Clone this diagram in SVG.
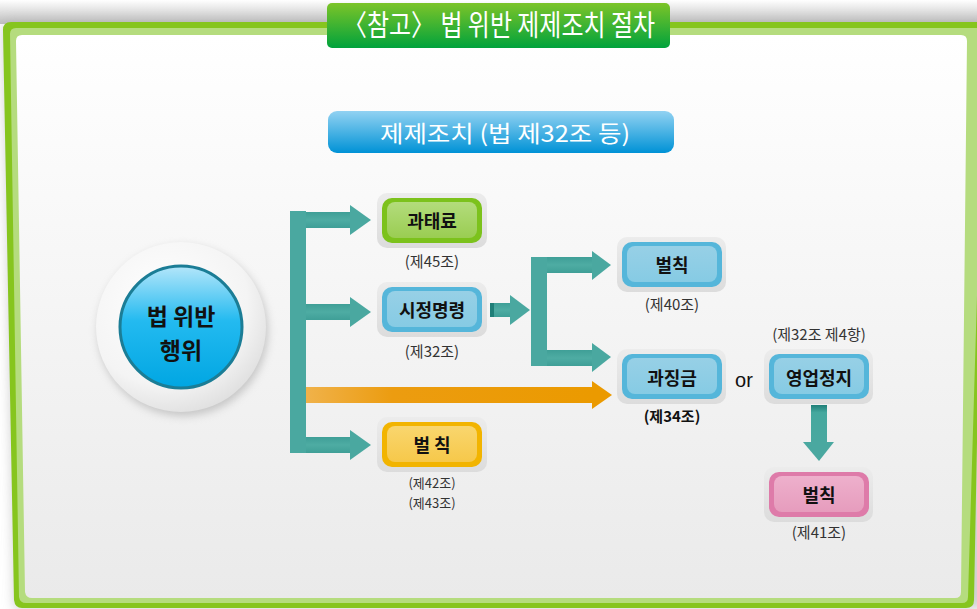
<svg xmlns="http://www.w3.org/2000/svg" width="977" height="609" viewBox="0 0 977 609">
<defs>
<linearGradient id="panelG" x1="0" y1="0" x2="0" y2="1"><stop offset="0" stop-color="#ffffff"/><stop offset="1" stop-color="#eaeaea"/></linearGradient>
<linearGradient id="topShadow" x1="0" y1="0" x2="0" y2="1"><stop offset="0" stop-color="#ffffff"/><stop offset="1" stop-color="#bdbdbd"/></linearGradient>
<linearGradient id="tabG" x1="0" y1="0" x2="0" y2="1"><stop offset="0" stop-color="#7cc428"/><stop offset="1" stop-color="#00a23c"/></linearGradient>
<linearGradient id="banG" x1="0" y1="0" x2="0" y2="1"><stop offset="0" stop-color="#92d2f2"/><stop offset="1" stop-color="#0092d6"/></linearGradient>
<linearGradient id="outerBox" x1="0" y1="0" x2="0" y2="1"><stop offset="0" stop-color="#ececec"/><stop offset="1" stop-color="#dcdcdc"/></linearGradient>
<linearGradient id="gIn" x1="0" y1="0" x2="0" y2="1"><stop offset="0" stop-color="#b3dc7c"/><stop offset="1" stop-color="#9acd52"/></linearGradient>
<linearGradient id="bIn" x1="0" y1="0" x2="0" y2="1"><stop offset="0" stop-color="#97d0e6"/><stop offset="1" stop-color="#86cbe4"/></linearGradient>
<linearGradient id="yIn" x1="0" y1="0" x2="0" y2="1"><stop offset="0" stop-color="#f9d66e"/><stop offset="1" stop-color="#f6c84a"/></linearGradient>
<linearGradient id="pIn" x1="0" y1="0" x2="0" y2="1"><stop offset="0" stop-color="#eeb0cc"/><stop offset="1" stop-color="#e69cbd"/></linearGradient>
<linearGradient id="orG" x1="0" y1="0" x2="1" y2="0"><stop offset="0" stop-color="#f0b24a"/><stop offset="0.3" stop-color="#ec9c10"/><stop offset="1" stop-color="#eb9a00"/></linearGradient>
<linearGradient id="tealH" x1="0" y1="0" x2="0" y2="1"><stop offset="0" stop-color="#3f9f97"/><stop offset="0.5" stop-color="#4eaca3"/><stop offset="1" stop-color="#3f9f97"/></linearGradient>
<linearGradient id="tealV" x1="0" y1="0" x2="0" y2="1"><stop offset="0" stop-color="#1f7f78"/><stop offset="0.2" stop-color="#45a89e"/><stop offset="1" stop-color="#4aa8a0"/></linearGradient>
<radialGradient id="ringG" cx="0.4" cy="0.35" r="0.7"><stop offset="0" stop-color="#ffffff"/><stop offset="0.7" stop-color="#f4f4f4"/><stop offset="1" stop-color="#dedede"/></radialGradient>
<linearGradient id="blueC" x1="0" y1="0" x2="0" y2="1"><stop offset="0" stop-color="#b4e6fa"/><stop offset="0.45" stop-color="#23baf0"/><stop offset="1" stop-color="#00a6e2"/></linearGradient>
<filter id="blur6" x="-10%" y="-10%" width="120%" height="120%"><feGaussianBlur stdDeviation="6"/></filter>
<filter id="sh" x="-20%" y="-20%" width="140%" height="140%"><feGaussianBlur stdDeviation="4"/></filter>
</defs>
<style>
.lbl{font-family:"Noto Sans CJK KR","Noto Sans",sans-serif;font-size:15px;fill:#333;text-anchor:middle}
.sm{font-size:13px}
.bt{font-family:"Noto Sans CJK KR","Noto Sans",sans-serif;font-size:18px;font-weight:bold;fill:#111;text-anchor:middle}
.ob{fill:url(#outerBox)}
.teal{fill:#4aa8a0}
.ct{font-family:"Noto Sans CJK KR","Noto Sans",sans-serif;font-size:23px;font-weight:bold;fill:#111;text-anchor:middle}
</style>
<rect width="977" height="609" fill="#ffffff"/>
<rect x="0" y="0" width="977" height="24" fill="url(#topShadow)"/>
<path d="M3,30 Q3,22 11,22 L985,22 L985,609 L14,609 Z" fill="#b0b0b0" filter="url(#blur6)" opacity="0.6"/>
<g id="frame">
<path d="M3,30 Q3,22 11,22 L985,22 L974,600 Q974,608 966,608 L22,608 Q15,608 14,600 Z" fill="#86c51e"/>
<path d="M10,34 Q10,28 16,28 L985,28 L968,597 Q968,603 962,603 L26,603 Q20,603 19,597 Z" fill="#b5dc7e"/>
<path d="M16,41 Q16,35 22,35 L961,35 Q967,35 967,41 L961,592 Q961,598 955,598 L32,598 Q26,598 25,592 Z" fill="url(#panelG)"/>
</g>
<g id="title">
<rect x="327" y="3" width="343" height="45" rx="5" fill="url(#tabG)"/>
<text x="499" y="36" font-family="Noto Sans CJK KR,sans-serif" font-size="29" fill="#fff" text-anchor="middle" textLength="312" lengthAdjust="spacingAndGlyphs">〈참고〉 법 위반 제제조치 절차</text>
</g>
<g id="banner">
<rect x="328" y="111" width="346" height="42" rx="9" fill="url(#banG)"/>
<text x="505" y="142" font-family="Noto Sans CJK KR,sans-serif" font-size="23" fill="#fff" text-anchor="middle" textLength="250" lengthAdjust="spacingAndGlyphs">제제조치 (법 제32조 등)</text>
</g>
<g id="connectors">
<rect x="290" y="211" width="16" height="242" class="teal"/>
<rect x="306" y="212" width="46" height="16" fill="url(#tealH)"/>
<polygon points="350,205 371,220 350,235" class="teal"/>
<rect x="306" y="304" width="46" height="16" fill="url(#tealH)"/>
<polygon points="350,297 371,312 350,327" class="teal"/>
<rect x="306" y="437" width="46" height="16" fill="url(#tealH)"/>
<polygon points="350,430 371,445 350,460" class="teal"/>
<rect x="306" y="387" width="288" height="16" fill="url(#orG)"/>
<polygon points="592,381 612,395 592,409" fill="#eb9a00"/>
<rect x="490" y="303" width="22" height="14" fill="url(#tealH)"/>
<rect x="490" y="303" width="4" height="14" fill="#1f7f78"/>
<polygon points="510,295 530,310 510,325" class="teal"/>
<rect x="531" y="257" width="16" height="109" class="teal"/>
<rect x="547" y="257" width="47" height="16" fill="url(#tealH)"/>
<polygon points="592,251 611,265 592,280" class="teal"/>
<rect x="547" y="350" width="47" height="16" fill="url(#tealH)"/>
<polygon points="592,343 611,357 592,372" class="teal"/>
<rect x="811" y="405" width="16" height="38" fill="url(#tealV)"/>
<polygon points="803,442 834,442 819,461" class="teal"/>
</g>
<g id="violation">
<circle cx="183" cy="331" r="85" fill="#9a9a9a" filter="url(#sh)" opacity="0.5"/>
<circle cx="181" cy="327" r="85" fill="url(#ringG)"/>
<circle cx="181" cy="327" r="61" fill="url(#blueC)" stroke="#1b7d96" stroke-width="3"/>
<text x="181" y="325" class="ct">법 위반</text>
<text x="181" y="359" class="ct">행위</text>
</g>
<g id="fine">
<rect x="377" y="193" width="110" height="55" rx="10" class="ob"/>
<rect x="382" y="198" width="100" height="45" rx="10" fill="#7cc21c"/>
<rect x="387" y="202" width="90" height="36" rx="8" fill="url(#gIn)"/>
<text x="432" y="228" class="bt">과태료</text>
<text x="432" y="267" class="lbl">(제45조)</text>
</g>
<g id="order">
<rect x="377" y="282" width="110" height="55" rx="10" class="ob"/>
<rect x="382" y="287" width="100" height="45" rx="10" fill="#55b6da"/>
<rect x="387" y="291" width="90" height="36" rx="8" fill="url(#bIn)"/>
<text x="432" y="317" class="bt">시정명령</text>
<text x="432" y="357" class="lbl">(제32조)</text>
</g>
<g id="penalty1">
<rect x="377" y="417" width="110" height="55" rx="10" class="ob"/>
<rect x="382" y="422" width="100" height="45" rx="10" fill="#f2b400"/>
<rect x="387" y="426" width="90" height="36" rx="8" fill="url(#yIn)"/>
<text x="432" y="452" class="bt">벌 칙</text>
<text x="432" y="488" class="lbl sm">(제42조)</text>
<text x="432" y="508" class="lbl sm">(제43조)</text>
</g>
<g id="penalty2">
<rect x="617" y="237" width="109" height="55" rx="10" class="ob"/>
<rect x="622" y="242" width="100" height="45" rx="10" fill="#55b6da"/>
<rect x="627" y="246" width="90" height="36" rx="8" fill="url(#bIn)"/>
<text x="672" y="272" class="bt">벌칙</text>
<text x="672" y="310" class="lbl">(제40조)</text>
</g>
<g id="surcharge">
<rect x="617" y="349" width="109" height="55" rx="10" class="ob"/>
<rect x="622" y="354" width="100" height="45" rx="10" fill="#55b6da"/>
<rect x="627" y="358" width="90" height="36" rx="8" fill="url(#bIn)"/>
<text x="672" y="385" class="bt">과징금</text>
<text x="672" y="422" class="lbl" style="fill:#111;font-weight:bold">(제34조)</text>
</g>
<text x="744" y="387" font-family="Liberation Sans,Arial,sans-serif" font-size="20" fill="#111" text-anchor="middle">or</text>
<g id="suspension">
<text x="819" y="340" class="lbl">(제32조 제4항)</text>
<rect x="764" y="349" width="109" height="55" rx="10" class="ob"/>
<rect x="769" y="354" width="100" height="45" rx="10" fill="#55b6da"/>
<rect x="774" y="358" width="90" height="36" rx="8" fill="url(#bIn)"/>
<text x="819" y="385" class="bt">영업정지</text>
</g>
<g id="penalty3">
<rect x="764" y="467" width="109" height="55" rx="10" class="ob"/>
<rect x="769" y="472" width="100" height="45" rx="10" fill="#de7ba9"/>
<rect x="774" y="476" width="90" height="36" rx="8" fill="url(#pIn)"/>
<text x="819" y="502" class="bt">벌칙</text>
<text x="819" y="538" class="lbl">(제41조)</text>
</g>
</svg>
